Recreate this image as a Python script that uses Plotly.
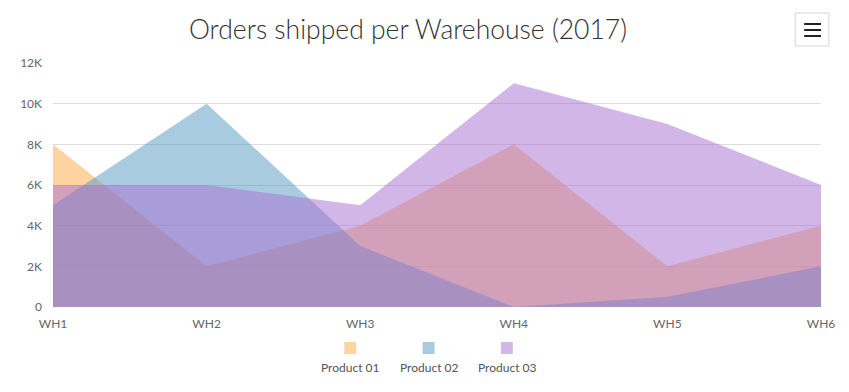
import plotly.graph_objects as go

categories = ["WH1", "WH2", "WH3", "WH4", "WH5", "WH6"]
series_names = ["Product 01", "Product 02", "Product 03"]
product_01 = [8000, 2000, 4000, 8000, 2000, 4000]
product_02 = [5000, 10000, 3000, 0, 500, 2000]
product_03 = [6000, 6000, 5000, 11000, 9000, 6000]
y_tick_vals = [0, 2000, 4000, 6000, 8000, 10000, 12000]
y_tick_text = ["0", "2K", "4K", "6K", "8K", "10K", "12K"]

series_values = [product_01, product_02, product_03]
fill_colors = ["rgba(251,167,65,0.5)", "rgba(83,151,193,0.5)", "rgba(167,109,209,0.5)"]
swatch_colors = ["#fdd3a0", "#a9cbe0", "#d3b6e8"]

FONT = "Lato"
W, H = 849, 392
OFF = 8  # page body margin
# plot area in page pixels: x 46..821, y 63..307
PX0, PX1, PY0, PY1 = 46, 821, 63, 307
ml = PX0 - OFF
mt = PY0 - OFF
mr = W - (PX1 - OFF)
mb = H - (PY1 - OFF)


def px_x(p):
    return (p - PX0) / (PX1 - PX0)


def px_y(p):
    return (PY1 - p) / (PY1 - PY0)


fig = go.Figure()
for name, vals, fc in zip(series_names, series_values, fill_colors):
    fig.add_trace(go.Scatter(
        x=categories, y=vals, name=name, mode="lines",
        line=dict(width=0, color=fc), fill="tozeroy", fillcolor=fc,
        showlegend=False, hoverinfo="x+y+name",
    ))

shapes = []
annotations = []
centers = [346, 425, 504]
for name, sc, cx in zip(series_names, swatch_colors, centers):
    shapes.append(dict(type="rect", xref="paper", yref="paper",
                       x0=px_x(cx - 6), x1=px_x(cx + 6),
                       y0=px_y(354), y1=px_y(342),
                       fillcolor=sc, line=dict(width=0)))
    annotations.append(dict(text=name, xref="paper", yref="paper",
                            x=px_x(cx), y=px_y(367),
                            showarrow=False, xanchor="center", yanchor="middle",
                            font=dict(family=FONT, size=12, color="#555555")))

# menu button
shapes.append(dict(type="rect", xref="paper", yref="paper",
                   x0=px_x(795), x1=px_x(829), y0=px_y(46), y1=px_y(13),
                   line=dict(color="#d6d6d6", width=1), fillcolor="white"))
for yy in [24, 30, 36]:
    shapes.append(dict(type="line", xref="paper", yref="paper",
                       x0=px_x(804), x1=px_x(821), y0=px_y(yy), y1=px_y(yy),
                       line=dict(color="#222222", width=2)))

fig.update_layout(
    width=W, height=H,
    margin=dict(l=ml, r=mr, t=mt, b=mb),
    paper_bgcolor="white", plot_bgcolor="white",
    title=dict(text="Orders shipped per Warehouse (2017)", xref="container",
               x=(408 - OFF) / W, xanchor="center",
               y=1 - (30 - OFF) / H, yanchor="middle",
               font=dict(family=FONT, size=26.5, color="#333333", weight=300)),
    xaxis=dict(type="category", range=[0, 5], showgrid=False, zeroline=False,
               showline=False, ticks="", ticklabelstandoff=8,
               tickfont=dict(family=FONT, size=12, color="#666666"),
               fixedrange=True),
    yaxis=dict(range=[0, 12000], tickvals=y_tick_vals, ticktext=y_tick_text,
               showgrid=True, gridcolor="#dddddd", gridwidth=1, zeroline=False,
               showline=False, ticks="", ticklabelstandoff=10,
               tickfont=dict(family=FONT, size=12, color="#666666"), fixedrange=True),
    shapes=shapes, annotations=annotations, showlegend=False,
)

fig.write_html("out.html", config={"displayModeBar": False})
